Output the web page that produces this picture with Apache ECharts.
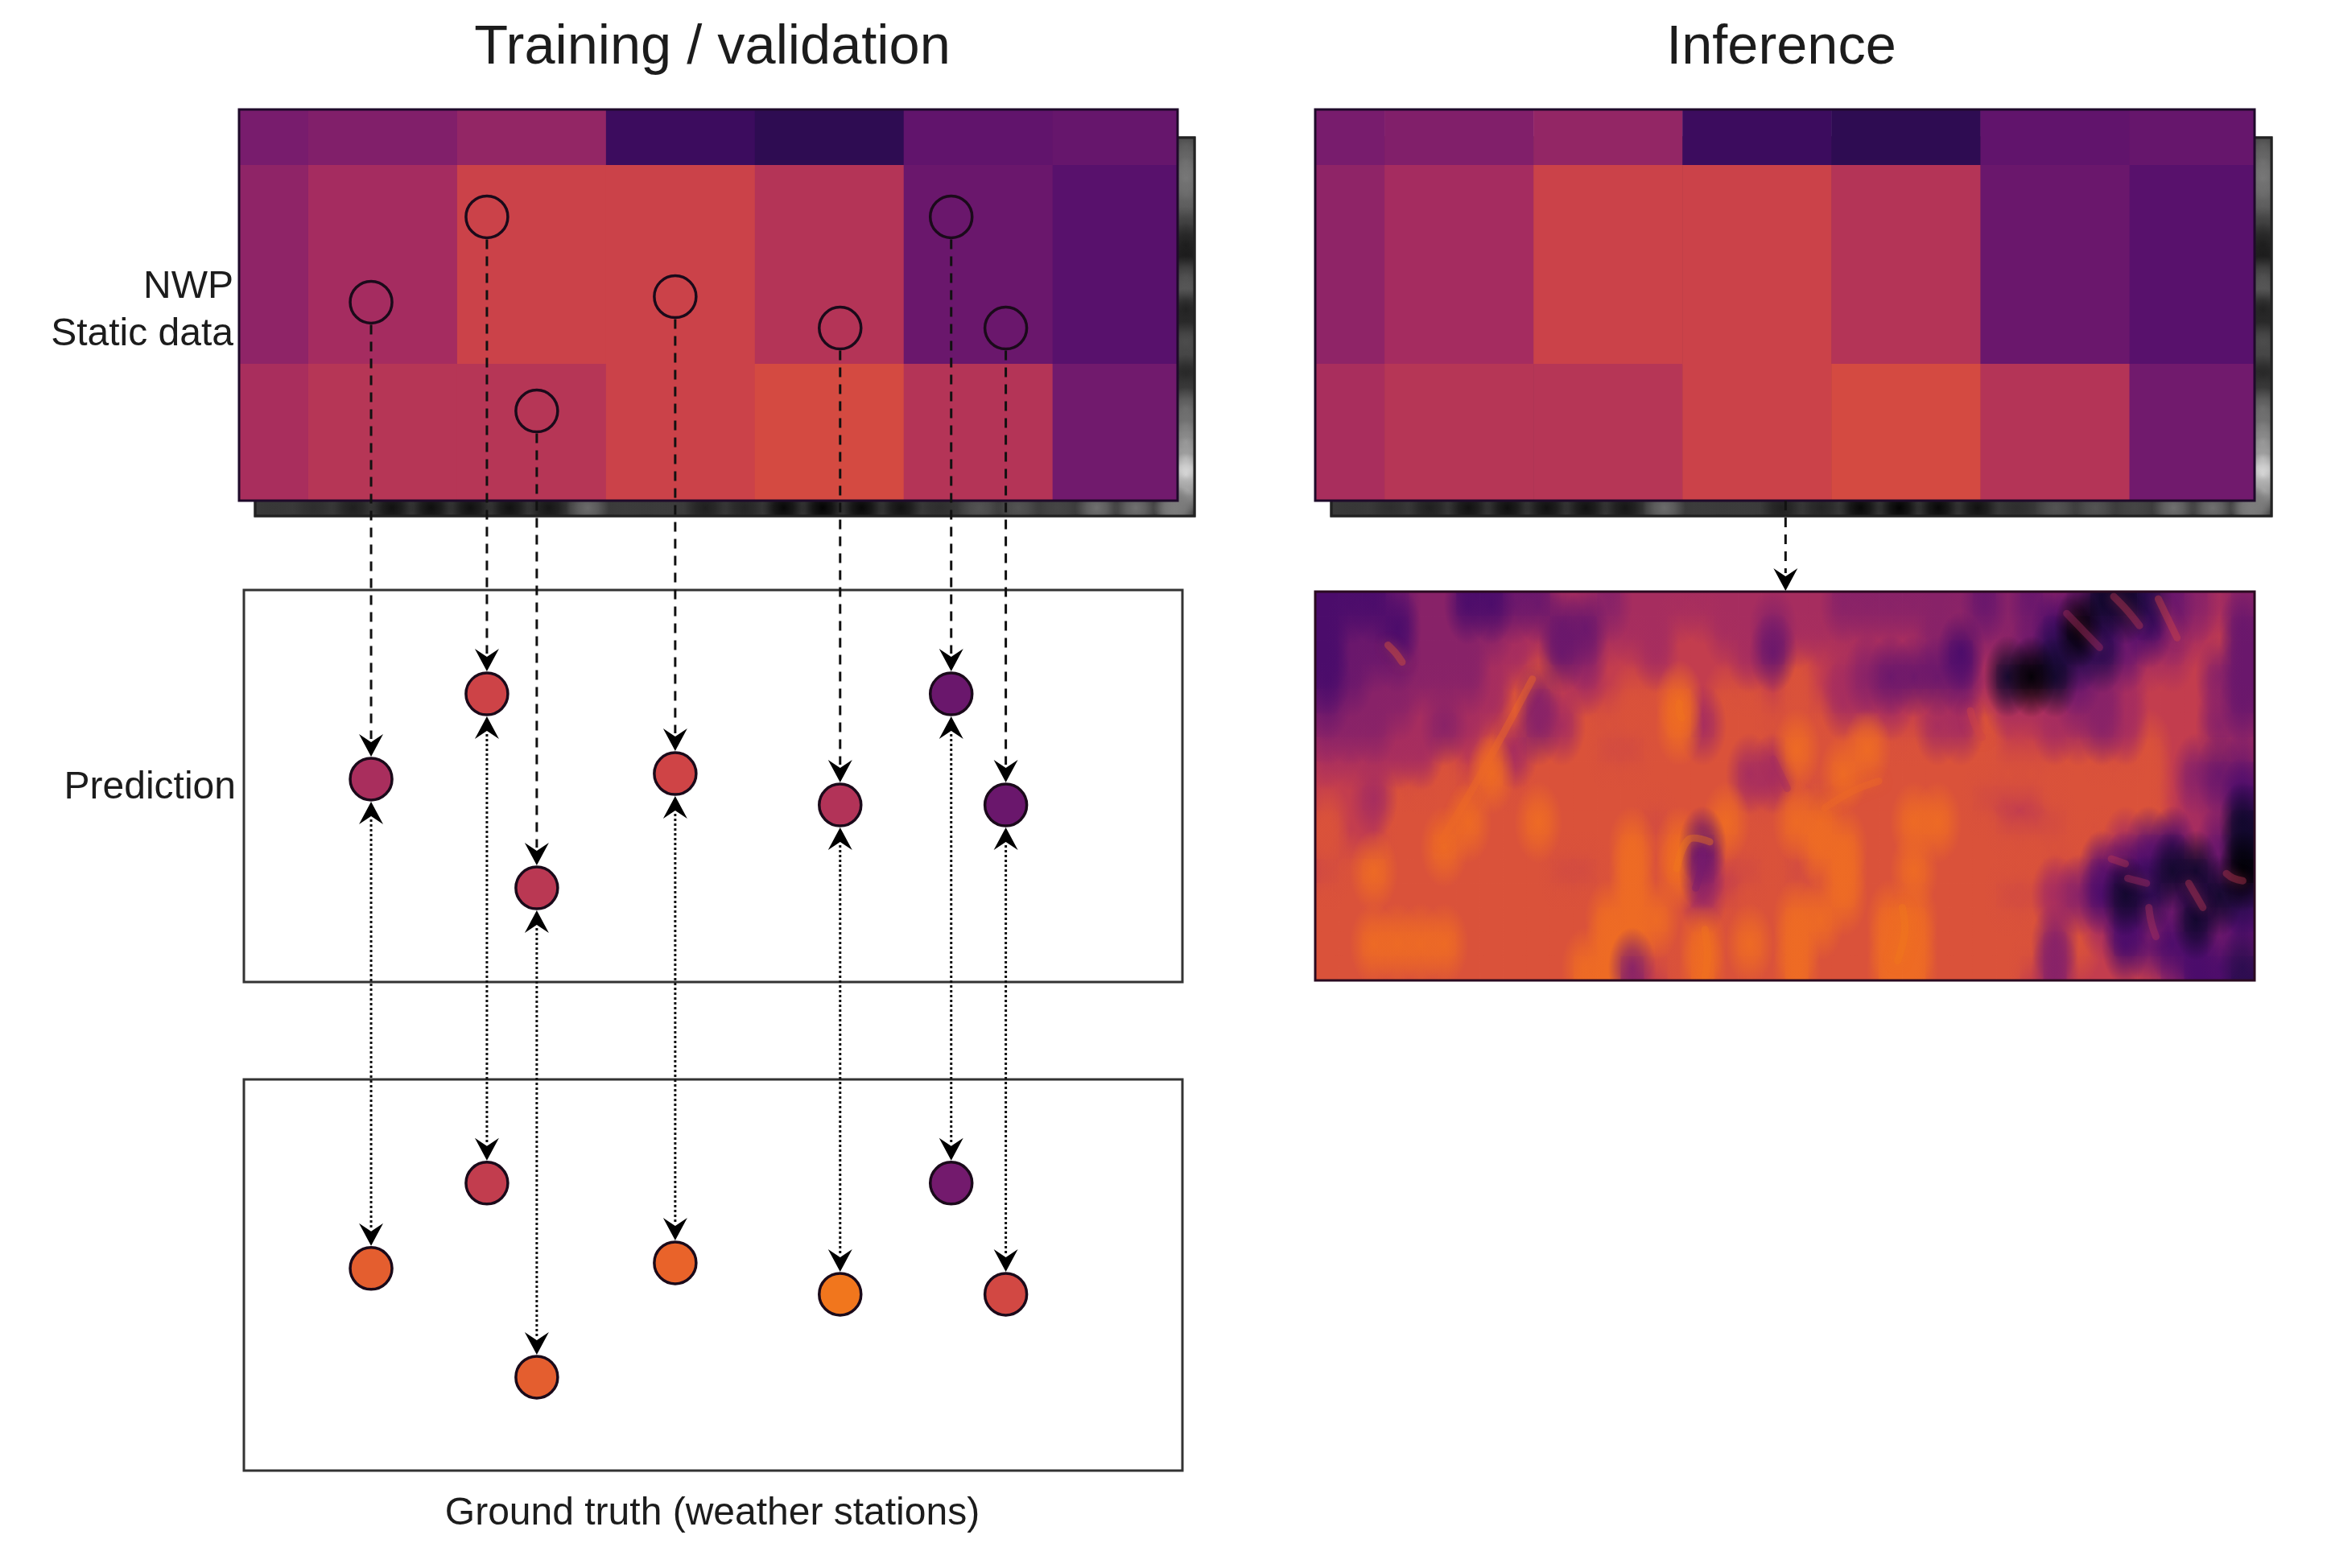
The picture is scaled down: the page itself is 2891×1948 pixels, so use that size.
<!DOCTYPE html>
<html>
<head>
<meta charset="utf-8">
<style>
  html, body { margin: 0; padding: 0; background: #fff; }
  #main { width: 2891px; height: 1948px; }
</style>
<script src="https://cdn.jsdelivr.net/npm/echarts@6/dist/echarts.min.js"></script>
</head>
<body>
<div id="main"></div>
<script>
// inferno colour map stops, all scalar values below are on this 0-1 scale
var inferno = ["#000004", "#1b0c41", "#4a0c6b", "#781c6d", "#a52c60", "#cf4446",
               "#ed6925", "#fb9b06", "#f7d13d", "#f5f08f", "#fcffa4"];

// coarse NWP field, rows top to bottom, one value per grid cell
var nwpRow0 = [0.30, 0.32, 0.36, 0.17, 0.14, 0.25, 0.26];
var nwpRow1 = [0.35, 0.40, 0.49, 0.49, 0.435, 0.27, 0.23];
var nwpRow2 = [0.41, 0.44, 0.44, 0.49, 0.515, 0.435, 0.285];

// stations, in NWP grid cells (column, row)
var stationCol = [1.422, 2.2, 2.535, 3.465, 4.573, 5.319, 5.686];
var stationRow = [1.69, 1.261, 2.237, 1.662, 1.82, 1.261, 1.82];
var predValues = [0.41, 0.495, 0.45, 0.5, 0.43, 0.27, 0.27];
var truthValues = [0.57, 0.47, 0.57, 0.585, 0.625, 0.29, 0.51];

// how far down (in grid rows) each lower panel sits
var predOffset = 2.399;
var truthOffset = 4.86;

// grey levels seen along the two visible edges of the static data layer
var staticBottom = [55, 45, 30, 15, 12, 14, 15, 20, 110, 60, 60, 30,
                    35, 5, 0, 5, 15, 45, 85, 85, 70, 115, 115, 125];
var staticRight = [90, 110, 125, 115, 95, 60, 30, 25, 80, 90, 30, 40,
                   80, 70, 35, 60, 110, 120, 150, 170, 235, 170, 125];

// downscaled field, one digit per cell, 0 = darkest, 9 = brightest
var hiresRows = [
  "33345533446656666666" + "66555555454541124565",
  "34435555664466677665" + "66666656555303435674",
  "34445556674577677764" + "77766653664222466774",
  "34555556787677777777" + "87654444610145677754",
  "45556666857778897887" + "87666776766655677764",
  "55566567856888896888" + "88887766877665677755",
  "66666778688877888887" + "98898888877787787776",
  "77777879788888888866" + "88988888888888887544",
  "77688888888888888877" + "87888888777888887653",
  "87788898898888788988" + "99888998877788887661",
  "87788988888889894888" + "89988888888887643641",
  "78988888887789895778" + "78988988888774331140",
  "88888888888889886788" + "88988888877653124312",
  "88888888888899988888" + "99889988888776345143",
  "88999988888899889898" + "98889988888587343354",
  "88888888888995789888" + "98889988887577775332"
];
var hiresStep = 0.0672;

// thin ridges read from the field: col, row, value, then two more col/row points
var hiresRidges = [
  [5.4, 10.2, 0.60, 7.0, 7.6, 9.25, 3.6],
  [15.4, 11.4, 0.63, 15.9, 10.2, 16.8, 10.3],
  [16.5, 10.7, 0.30, 16.4, 11.5, 16.2, 12.2],
  [19.5, 6.9, 0.40, 19.8, 7.5, 20.1, 8.1],
  [21.7, 8.9, 0.60, 22.9, 8.2, 24.0, 7.8],
  [25.0, 13.0, 0.63, 25.1, 14.0, 24.8, 15.2],
  [16.6, 13.9, 0.62, 16.7, 14.9, 16.6, 15.9],
  [3.1, 2.2, 0.55, 3.4, 2.5, 3.7, 2.9],
  [15.5, 4.6, 0.62, 15.5, 4.9, 15.6, 5.2],
  [27.9, 4.9, 0.50, 28.1, 5.5, 28.4, 6.0],
  [34.0, 0.2, 0.45, 34.6, 0.8, 35.1, 1.4],
  [32.0, 0.9, 0.40, 32.7, 1.6, 33.4, 2.3],
  [35.9, 0.3, 0.50, 36.3, 1.1, 36.7, 1.9],
  [37.2, 12.0, 0.45, 37.5, 12.5, 37.8, 13.0],
  [34.6, 11.8, 0.40, 35.0, 11.9, 35.4, 12.0],
  [38.8, 11.6, 0.45, 39.1, 11.8, 39.5, 11.9],
  [35.5, 13.0, 0.42, 35.6, 13.6, 35.8, 14.2],
  [33.9, 11.0, 0.45, 34.2, 11.1, 34.5, 11.2]
];

var titleLeft = "Training / validation";
var titleRight = "Inference";
var labelNwp = "NWP";
var labelStatic = "Static data";
var labelPrediction = "Prediction";
var labelTruth = "Ground truth (weather stations)";

// ---- build series data
var nwpData = [];
[nwpRow0, nwpRow1, nwpRow2].forEach(function (row, r) {
  row.forEach(function (v, c) { nwpData.push([c, r, v]); });
});
var staticData = [];
staticRight.forEach(function (g, r) { staticData.push([23, r, g]); });
staticBottom.forEach(function (g, c) { staticData.push([c, 22, g]); });
var hiresData = [];
hiresRows.forEach(function (row, r) {
  for (var c = 0; c < row.length; c++) {
    hiresData.push([c, r, Number(row[c]) * hiresStep]);
  }
});
// soft pass draws the extreme values last so dark patches stay dark
var hiresSoft = hiresData.slice().sort(function (a, b) {
  return Math.abs(a[2] - 0.5) - Math.abs(b[2] - 0.5);
});
var rings = stationCol.map(function (c, i) { return [c, stationRow[i]]; });
var predPoints = stationCol.map(function (c, i) { return [c, stationRow[i] + predOffset, predValues[i]]; });
var truthPoints = stationCol.map(function (c, i) { return [c, stationRow[i] + truthOffset, truthValues[i]]; });
var dashedLinks = stationCol.map(function (c, i) { return [c, stationRow[i], stationRow[i] + predOffset]; });
var dottedLinks = stationCol.map(function (c, i) { return [c, stationRow[i] + predOffset, stationRow[i] + truthOffset]; });
var inferenceLink = [[3.692, 2.688, 3.142]];

// ---- grids, all axes hidden
var colRange = [0.535, 6.84];
var rowRange = [0.7206, 2.688];
var columnRowRange = [0.7206, 7.567];
var grids = [
  { left: 317, top: 171, width: 1167, height: 470 },   // static left
  { left: 297, top: 136, width: 1166, height: 486 },   // nwp left
  { left: 297, top: 136, width: 1166, height: 1691 },  // links and stations
  { left: 1654, top: 171, width: 1168, height: 470 },  // static right
  { left: 1634, top: 136, width: 1167, height: 486 },  // nwp right
  { left: 1634, top: 136, width: 1167, height: 1691 }, // inference arrow
  { left: 1634, top: 735, width: 1167, height: 483 }   // downscaled field
];
var xRanges = [[0, 24], colRange, colRange, [0, 24], colRange, colRange, [0, 40]];
var yRanges = [[0, 23], rowRange, columnRowRange, [0, 23], rowRange, columnRowRange, [0, 16]];

function hiddenAxis(range, idx, inverse) {
  return { type: "value", gridIndex: idx, min: range[0], max: range[1], inverse: inverse, show: false };
}

// one filled cell per data item, colour comes from the visualMap
function renderCell(params, api) {
  var p0 = api.coord([api.value(0), api.value(1)]);
  var p1 = api.coord([api.value(0) + 1, api.value(1) + 1]);
  return {
    type: "rect",
    shape: { x: p0[0], y: p0[1], width: p1[0] - p0[0] + 0.5, height: p1[1] - p0[1] + 0.5 },
    style: { fill: api.visual("color") }
  };
}

function blobItem(x, y, color, r, stretch) {
  return {
    type: "rect",
    shape: { x: -r, y: -r, width: 2 * r, height: 2 * r },
    x: x, y: y, scaleY: stretch,
    style: {
      fill: new echarts.graphic.RadialGradient(0.5, 0.5, 0.5, [
        { offset: 0, color: echarts.color.modifyAlpha(color, 0.95) },
        { offset: 0.45, color: echarts.color.modifyAlpha(color, 0.65) },
        { offset: 1, color: echarts.color.modifyAlpha(color, 0) }
      ])
    }
  };
}

// soft vertical blob over a cell, gives the field its blurred streaky look
function renderBlob(params, api) {
  var c = api.coord([api.value(0) + 0.5, api.value(1) + 0.5]);
  return blobItem(c[0], c[1], api.visual("color"), 30, 1.7);
}

// same softening for the static layer, right edge cells sit in the visible part of the column
function renderStaticBlob(params, api) {
  var col = api.value(0), row = api.value(1);
  var x = col === 23 && row < 22 ? 23.78 : col + 0.5;
  var c = api.coord([x, row + 0.5]);
  return blobItem(c[0], c[1], api.visual("color"), 27, 1);
}

function renderRidge(params, api) {
  var pts = [api.coord([api.value(0), api.value(1)]),
             api.coord([api.value(3), api.value(4)]),
             api.coord([api.value(5), api.value(6)])];
  var color = api.visual("color");
  return {
    type: "polyline",
    shape: { points: pts, smooth: 0.4 },
    style: { fill: "none", stroke: color, lineWidth: 9, lineCap: "round", opacity: 0.4, shadowBlur: 14, shadowColor: color }
  };
}

function arrowHead(x, tipY, dir) {
  var w = 15, len = 28, notch = 18;
  return {
    type: "polygon",
    shape: { points: [[x, tipY], [x - w, tipY - dir * len], [x, tipY - dir * notch], [x + w, tipY - dir * len]] },
    style: { fill: "#000" }
  };
}

// vertical link between two points, clear = gap kept for the circle at each end
function renderLink(dash, startHead, clear) {
  return function (params, api) {
    var a = api.coord([api.value(0), api.value(1)]);
    var b = api.coord([api.value(0), api.value(2)]);
    var y0 = a[1] + clear;
    var y1 = b[1] - clear;
    var children = [{
      type: "line",
      shape: { x1: a[0], y1: startHead ? y0 + 22 : y0, x2: a[0], y2: y1 - 22 },
      style: { stroke: "#111", lineWidth: 3, lineDash: dash }
    }, arrowHead(a[0], y1, 1)];
    if (startHead) children.push(arrowHead(a[0], y0, -1));
    return { type: "group", children: children };
  };
}

function cellSeries(name, gridIdx, data, render, z) {
  return {
    type: "custom", name: name, xAxisIndex: gridIdx, yAxisIndex: gridIdx, data: data,
    encode: { x: 0, y: 1 }, renderItem: render, clip: true, silent: true, z: z, animation: false
  };
}
function linkSeries(name, gridIdx, data, dash, startHead, clear) {
  return {
    type: "custom", name: name, xAxisIndex: gridIdx, yAxisIndex: gridIdx, data: data,
    encode: { x: 0, y: [1, 2] }, renderItem: renderLink(dash, startHead, clear), silent: true, z: 7, animation: false
  };
}
function stationSeries(name, data, fill) {
  return {
    type: "scatter", name: name, xAxisIndex: 2, yAxisIndex: 2, data: data, symbol: "circle", symbolSize: 52,
    itemStyle: { color: fill, borderColor: "#1a0a1a", borderWidth: 3.5, opacity: 1 },
    silent: true, z: 8, animation: false
  };
}

var series = [
  cellSeries("static left", 0, staticData, renderStaticBlob, 1),   // 0
  cellSeries("static right", 3, staticData, renderStaticBlob, 1),  // 1
  cellSeries("nwp left", 1, nwpData, renderCell, 3),               // 2
  cellSeries("nwp right", 4, nwpData, renderCell, 3),              // 3
  cellSeries("downscaled", 6, hiresData, renderCell, 3),           // 4
  cellSeries("downscaled soft", 6, hiresSoft, renderBlob, 4),      // 5
  cellSeries("downscaled ridges", 6, hiresRidges, renderRidge, 4), // 6
  stationSeries("prediction", predPoints),                         // 7
  stationSeries("truth", truthPoints),                             // 8
  stationSeries("nwp at stations", rings, "transparent"),
  linkSeries("nwp to prediction", 2, dashedLinks, [12, 9], false, 28),
  linkSeries("prediction to truth", 2, dottedLinks, [3, 3], true, 28),
  linkSeries("nwp to downscaled", 5, inferenceLink, [12, 9], false, 0)
];

function frame(x, y, w, h, color, z, fill) {
  return { type: "rect", shape: { x: x, y: y, width: w, height: h }, z: z, silent: true,
           style: { fill: fill || "none", stroke: color, lineWidth: 3 } };
}
function label(text, x, y, align, size) {
  return { type: "text", x: x, y: y, z: 9, silent: true,
           style: { text: text, fill: "#1c1c1c", font: size + "px 'Liberation Sans'", textAlign: align, textVerticalAlign: "middle" } };
}

var option = {
  backgroundColor: "#fff",
  animation: false,
  grid: grids,
  xAxis: xRanges.map(function (r, i) { return hiddenAxis(r, i, false); }),
  yAxis: yRanges.map(function (r, i) { return hiddenAxis(r, i, true); }),
  visualMap: [
    { type: "continuous", show: false, min: 0, max: 1, dimension: 2, seriesIndex: [2, 3, 4, 5, 6, 7, 8], inRange: { color: inferno } },
    { type: "continuous", show: false, min: 0, max: 255, dimension: 2, seriesIndex: [0, 1], inRange: { color: ["#000000", "#ffffff"] } }
  ],
  series: series,
  graphic: [
    // mid grey backing so the soft static blobs blend over something
    frame(317, 171, 1167, 470, "#222", 0, "#3a3a3a"),
    frame(1654, 171, 1168, 470, "#222", 0, "#3a3a3a"),
    frame(317, 171, 1167, 470, "#222", 2),
    frame(1654, 171, 1168, 470, "#222", 2),
    frame(297, 136, 1166, 486, "#1e0a2a", 5),
    frame(1634, 136, 1167, 486, "#1e0a2a", 5),
    frame(1634, 735, 1167, 483, "#2a0a20", 5),
    frame(303, 733, 1166, 487, "#333", 5),
    frame(303, 1341, 1166, 486, "#333", 5),
    label(titleLeft, 885, 60, "center", 68.5),
    label(titleRight, 2213, 60, "center", 68.5),
    label(labelNwp, 290, 357, "right", 48),
    label(labelStatic, 290, 416, "right", 48),
    label(labelPrediction, 293, 979, "right", 48),
    label(labelTruth, 885, 1881, "center", 48)
  ]
};

var chart = echarts.init(document.getElementById("main"), null, { renderer: "canvas" });
chart.setOption(option);
</script>
</body>
</html>
